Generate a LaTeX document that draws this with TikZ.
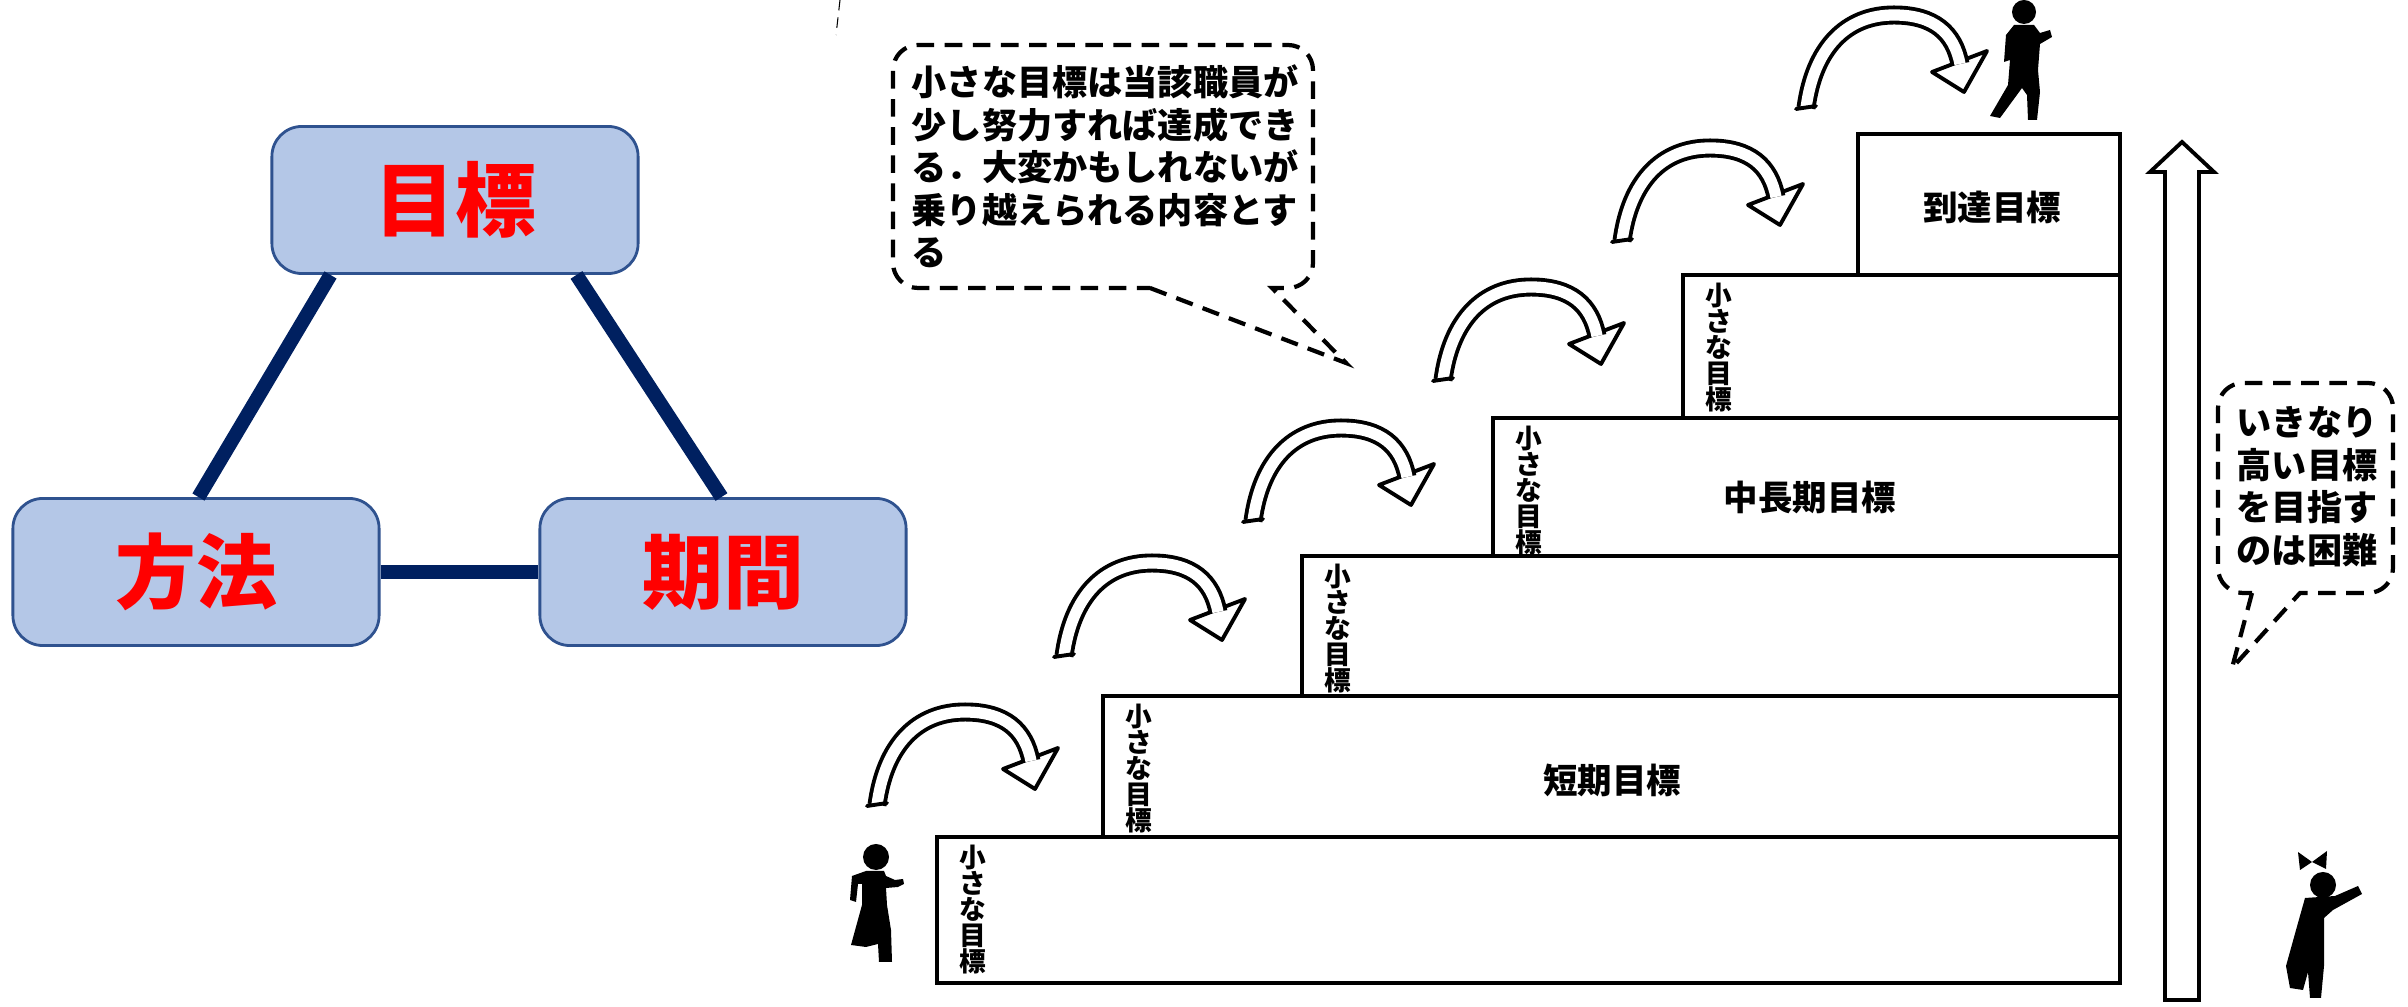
\documentclass[tikz,border=0pt]{standalone}
\usepackage{fontspec}
\setmainfont{Noto Sans CJK JP}
\usepackage{xcolor}
\usetikzlibrary{calc}
\definecolor{boxfill}{RGB}{180,199,231}
\definecolor{boxline}{RGB}{47,82,143}
\definecolor{linkcolor}{RGB}{0,32,96}

\tikzset{
  jump/.pic={
    \filldraw[fill=white, line width=1.1pt, line join=round] (126,-36) -- (158,-16) -- (181,-57) -- cycle;
    \draw[line width=1.1pt, double=white, double distance=3.2pt] (0,0) .. controls (8,-60) and (40,-93) .. (88,-93) .. controls (128,-93) and (148,-75) .. (154,-44);
    \draw[line width=1.1pt, line cap=round] (-10,1) -- (10,-2);
  }
}

\begin{document}
\begin{tikzpicture}[
    x=0.01cm, y=-0.01cm,
    corner/.style={rectangle, rounded corners=0.3cm, draw=boxline, line width=0.8pt, fill=boxfill, minimum width=3.66cm, minimum height=1.47cm, text=red, font=\fontsize{23pt}{23pt}\selectfont\bfseries},
    link/.style={draw=linkcolor, line width=4pt},
    stair/.style={draw, line width=1pt},
    tate/.style={align=center, inner sep=0pt, font=\fontsize{7.6pt}{7.4pt}\selectfont\bfseries},
    steplabel/.style={inner sep=0pt, font=\fontsize{9.8pt}{9.8pt}\selectfont\bfseries},
    note/.style={align=left, inner sep=0pt, font=\fontsize{10pt}{12.1pt}\selectfont\bfseries},
    bubble/.style={line width=1.2pt, dash pattern=on 5pt off 3pt},
    hollow/.style={draw, fill=white, line width=1.1pt, line join=miter},
    silhouette/.style={fill=black}
]
\useasboundingbox (0,0) rectangle (2408,1007);

\node[corner] (goal) at (455,200) {目標};
\node[corner] (method) at (196,572) {方法};
\node[corner] (period) at (723,572) {期間};

\draw[link] ($(goal.south west)+(60,0)$) -- ($(method.north west)+(187,0)$);
\draw[link] ($(goal.south west)+(306,0)$) -- ($(period.north west)+(183,0)$);
\draw[link] (method.east) -- (period.west);

% stairs
\foreach \l/\t/\b in {937/837/983, 1103/696/837, 1302/556/696, 1493/418/556, 1683/275/418, 1858/134/275}
  \draw[stair] (\l,\t) rectangle (2120,\b);
\foreach \l/\t [count=\i] in {937/837, 1103/696, 1302/556, 1493/418, 1683/275}
  \node[tate, anchor=north] (small\i) at ({\l+36},{\t+7}) {小\\さ\\な\\目\\標};

\node[steplabel] (reach) at (1992,207) {到達目標};
\node[steplabel] (midlong) at (1810,497) {中長期目標};
\node[steplabel] (short) at (1612,780) {短期目標};

\foreach \x/\y [count=\i] in {877/805, 1064/656, 1253/521, 1443/380, 1622/241, 1806/108}
  \pic (jump\i) at (\x,\y) {jump};

\draw[hollow] (2165,1000) -- (2165,172) -- (2150,172) -- (2182,142) -- (2214,172) -- (2199,172) -- (2199,1000) -- cycle;

% callouts
\draw[bubble] (1150,288) -- (1346,363) -- (1272,288) [rounded corners=0.25cm] -- (1313,288) -- (1313,45) -- (893,45) -- (893,288) -- (1150,288);
\node[note, anchor=north west] (smallnote) at (911,64) {小さな目標は当該職員が\\少し努力すれば達成でき\\る．大変かもしれないが\\乗り越えられる内容とす\\る};

\draw[bubble] (2252,593) -- (2232,668) -- (2300,593) [rounded corners=0.25cm] -- (2393,593) -- (2393,383) -- (2218,383) -- (2218,593) -- (2252,593);
\node[note, anchor=north west] (leapnote) at (2236,406) {いきなり\\高い目標\\を目指す\\のは困難};

\draw[densely dashed, line width=0.3pt] (840,0) -- (836,35);

% people
\fill[silhouette] (876,857) circle[radius=0.13cm];
\fill[silhouette] (866,871) -- (852,876) -- (850,900) -- (856,902) -- (858,884) -- (862,884) -- (862,905) -- (851,945) -- (866,947) -- (878,944) -- (879,962) -- (892,962) -- (891,930) -- (887,905) -- (886,888) -- (898,887) -- (904,884) -- (903,879) -- (895,880) -- (886,876) -- (884,871) -- cycle;

\fill[silhouette] (2024,12) circle[radius=0.12cm];
\fill[silhouette] (2014,25) -- (2034,25) -- (2040,33) -- (2050,30) -- (2052,37) -- (2040,44) -- (2038,70) -- (2040,92) -- (2037,120) -- (2028,120) -- (2027,95) -- (2022,88) -- (2000,118) -- (1990,116) -- (2008,85) -- (2010,60) -- (2004,62) -- (2006,35) -- cycle;

\fill[silhouette] (2323,885) circle[radius=0.13cm];
\fill[silhouette] (2312,862) -- (2298,852) -- (2300,870) -- cycle;
\fill[silhouette] (2312,862) -- (2327,851) -- (2326,869) -- cycle;
\fill[silhouette] (2305,898) -- (2335,896) -- (2358,886) -- (2362,894) -- (2333,910) -- (2324,918) -- (2324,966) -- (2321,998) -- (2310,998) -- (2308,972) -- (2303,990) -- (2290,988) -- (2286,966) -- (2296,930) -- cycle;
\end{tikzpicture}
\end{document}
